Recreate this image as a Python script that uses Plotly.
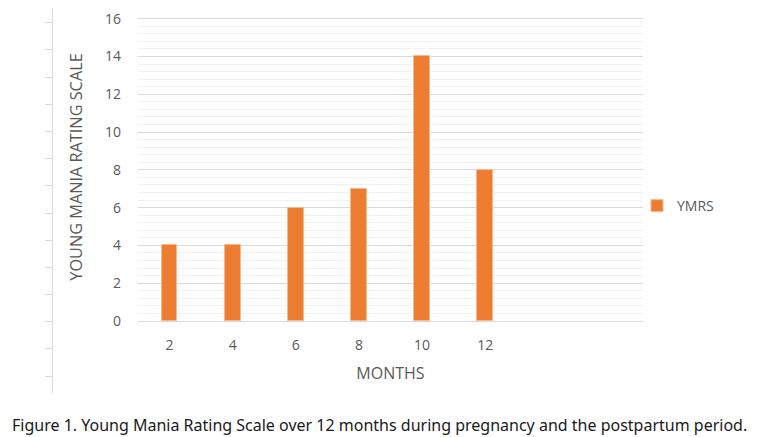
import plotly.graph_objects as go

months = [2, 4, 6, 8, 10, 12]
ymrs = [4, 4, 6, 7, 14, 8]
y_ticks = [0, 2, 4, 6, 8, 10, 12, 14, 16]
decor_ticks = list(range(1, 15))

# the page body adds an 8px margin, so the figure is 8px smaller and shifted
OFF = 8
W, H = 768 - OFF, 437 - OFF
def px(x): return (x - OFF) / W
def py(y): return (H - (y - OFF)) / H

fig = go.Figure()
fig.add_trace(go.Bar(
    x=months, y=ymrs, name="YMRS", width=0.5,
    marker=dict(color="#ED7D31", line=dict(color="#F6B98F", width=1)),
    xaxis="x", yaxis="y",
))
# decorative left ruler axis (as in the reference image)
fig.add_trace(go.Scatter(x=[0], y=[None], xaxis="x2", yaxis="y2",
                         showlegend=False, hoverinfo="skip"))

grey = "#595959"
fig.update_layout(
    width=W, height=H,
    margin=dict(l=0, r=0, t=0, b=0, autoexpand=False),
    paper_bgcolor="white", plot_bgcolor="white",
    font=dict(family="Open Sans", color=grey, size=14),
    bargap=0,
    xaxis=dict(
        domain=[px(138), px(643)], range=[1, 17],
        tickvals=months, ticktext=[str(m) for m in months],
        showgrid=False, zeroline=False, showline=False, ticks="",
        ticklabelstandoff=14, automargin=False,
        title=dict(text="MONTHS", font=dict(size=16, color=grey), standoff=14),
        anchor="y",
    ),
    yaxis=dict(
        domain=[py(321), py(13)], range=[0, 16.3],
        tickvals=y_ticks, ticklabeloverflow="allow",
        showgrid=True, gridcolor="#D9D9D9", gridwidth=1,
        zeroline=True, zerolinecolor="#D9D9D9", zerolinewidth=1,
        minor=dict(dtick=0.4, showgrid=True, gridcolor="#F2F2F2", gridwidth=1),
        showline=False, ticks="", ticklabelstandoff=16, automargin=False,
        title=dict(text="YOUNG MANIA RATING SCALE",
                   font=dict(size=16.3, color=grey), standoff=18),
        anchor="x",
    ),
    xaxis2=dict(domain=[px(53), px(54)], visible=False, anchor="y2", range=[0, 1]),
    yaxis2=dict(
        domain=[py(393), py(OFF)], range=[0.38, 14.54],
        tickvals=decor_ticks, showticklabels=False,
        showline=True, linecolor="#D9D9D9", linewidth=1,
        ticks="outside", ticklen=7, tickcolor="#D9D9D9",
        showgrid=False, zeroline=False, anchor="x2", automargin=False,
    ),
    legend=dict(x=px(637), y=py(206), xanchor="left", yanchor="middle",
                font=dict(size=14, color=grey), itemwidth=30,
                bgcolor="rgba(0,0,0,0)"),
    annotations=[dict(
        text="Figure 1. Young Mania Rating Scale over 12 months during pregnancy and the postpartum period.",
        x=px(10), y=py(425), xref="paper", yref="paper",
        xanchor="left", yanchor="middle", showarrow=False,
        font=dict(family="Noto Sans", size=16, color="#1a1a1a"),
    )],
)

fig.write_html("out.html")
